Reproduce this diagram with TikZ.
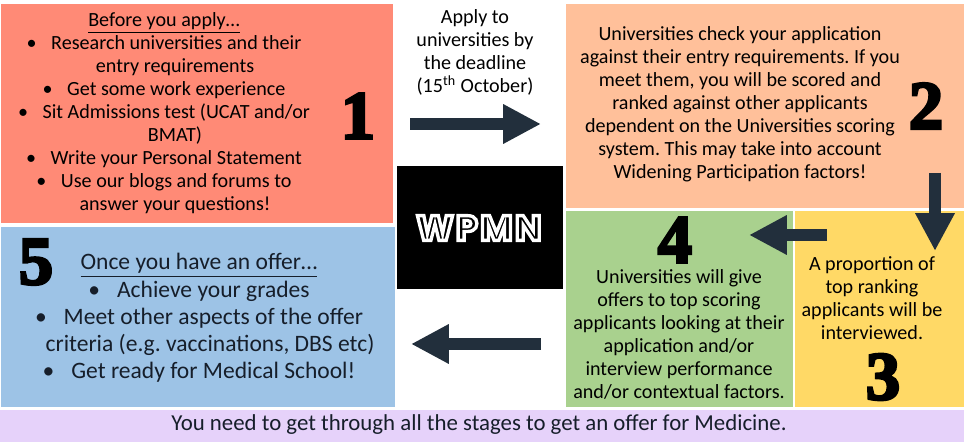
\documentclass[tikz,border=0pt]{standalone}
\usepackage{fontspec}
\setmainfont{Carlito}
\newfontfamily\digitfont[FakeBold=4]{Liberation Serif}
\newfontfamily\logofont[LetterSpace=7]{Poppins}
\usepackage{tikz}
\usetikzlibrary{arrows.meta}
\usepackage{xcolor}
\definecolor{softred}{RGB}{255,138,118}
\definecolor{softpeach}{RGB}{255,192,154}
\definecolor{softyellow}{RGB}{255,217,102}
\definecolor{softgreen}{RGB}{169,209,142}
\definecolor{softblue}{RGB}{157,195,230}
\definecolor{softlilac}{RGB}{230,210,250}
\definecolor{arrowslate}{RGB}{34,47,60}
\definecolor{inkdark}{RGB}{22,30,42}
\tikzset{
  stagebox/.style={rectangle,draw=none,anchor=north west,inner sep=0pt},
  stagetext/.style={align=center,inner sep=0pt,text=black,font=\fontsize{11.45}{13.1}\selectfont},
  stagedigit/.style={inner sep=0pt,text=black,font=\digitfont\bfseries\fontsize{39}{39}\selectfont},
  blockarrow/.style={draw=arrowslate,line width=7pt,-{Triangle[length=21.5pt,width=21pt,fill=arrowslate]}},
}
\newcommand{\bul}{\textbullet\hspace{0.72em}}
\newcommand{\hangon}{\hspace*{0.44cm}}
\begin{document}
\frenchspacing
\begin{tikzpicture}[x=0.02cm,y=-0.02cm]
\useasboundingbox (0,0) rectangle (964,448);
% coloured panels
\node[stagebox,fill=softred,minimum width=7.84cm,minimum height=4.38cm] (boxone) at (1,4) {};
\node[stagebox,fill=softblue,minimum width=7.88cm,minimum height=3.6cm] (boxfive) at (1,227) {};
\node[stagebox,fill=softpeach,minimum width=7.96cm,minimum height=4.08cm] (boxtwo) at (566,4) {};
\node[stagebox,fill=softgreen,minimum width=4.54cm,minimum height=3.92cm] (boxfour) at (566,211) {};
\node[stagebox,fill=softyellow,minimum width=3.38cm,minimum height=3.92cm] (boxthree) at (795,211) {};
\node[stagebox,fill=softlilac,minimum width=19.28cm,minimum height=0.64cm] (band) at (0,410) {};
\node[stagebox,fill=black,minimum width=3.32cm,minimum height=2.46cm] (logobox) at (397,166) {};
% texts
\node[stagetext] (textone) at (164,113) {\underline{Before you apply\dots}\\
  \bul Research universities and their\\ \hangon entry requirements\\
  \bul Get some work experience\\
  \bul Sit Admissions test (UCAT and/or\\ \hangon BMAT)\\
  \bul Write your Personal Statement\\
  \bul Use our blogs and forums to\\ \hangon answer your questions!};
\node[stagetext,text=inkdark,font=\fontsize{13.4}{15.5}\selectfont] (textfive) at (199,318) {\underline{Once you have an offer\dots}\\
  \bul Achieve your grades\\
  \bul Meet other aspects of the offer\\ \hangon criteria (e.g. vaccinations, DBS etc)\\
  \bul Get ready for Medical School!};
\node[stagetext] (applytext) at (475,52.5) {Apply to\\ universities by\\ the deadline\\ (15\textsuperscript{th} October)};
\node[stagetext] (texttwo) at (740,104) {Universities check your application\\ against their entry requirements. If you\\
  meet them, you will be scored and\\ ranked against other applicants\\ dependent on the Universities scoring\\
  system. This may take into account\\ Widening Participation factors!};
\node[stagetext] (textfour) at (679,334.5) {Universities will give\\ offers to top scoring\\ applicants looking at their\\
  application and/or\\ interview performance\\ and/or contextual factors.};
\node[stagetext] (textthree) at (872,298.5) {A proportion of\\ top ranking\\ applicants will be\\ interviewed.};
\node[stagetext,text=inkdark,font=\fontsize{13}{16}\selectfont] (bandtext) at (479,425) {You need to get through all the stages to get an offer for Medicine.};
\node[inner sep=0pt,text=white,font=\logofont\bfseries\fontsize{20}{20}\selectfont] (logotext) at (479,228) {\special{pdf:code 1 Tr 1.9 w 1 1 1 RG}WPMN\special{pdf:code 0 Tr 1 w}};
% digits
\node[stagedigit] (digitone) at (358,116) {1};
\node[stagedigit] (digittwo) at (926,106) {2};
\node[stagedigit] (digitthree) at (883,377) {3};
\node[stagedigit] (digitfour) at (675,240) {4};
\node[stagedigit] (digitfive) at (36,262) {5};
% arrows
\coordinate (applystart) at (410,124);
\coordinate (applyend) at (541,124);
\coordinate (checkstart) at (935,173);
\coordinate (checkend) at (935,251);
\coordinate (rankstart) at (827,235);
\coordinate (rankend) at (749,235);
\coordinate (offerstart) at (541,344);
\coordinate (offerend) at (411,344);
\draw[blockarrow] (applystart) -- (applyend);
\draw[blockarrow] (checkstart) -- (checkend);
\draw[blockarrow] (rankstart) -- (rankend);
\draw[blockarrow] (offerstart) -- (offerend);
\end{tikzpicture}
\end{document}
